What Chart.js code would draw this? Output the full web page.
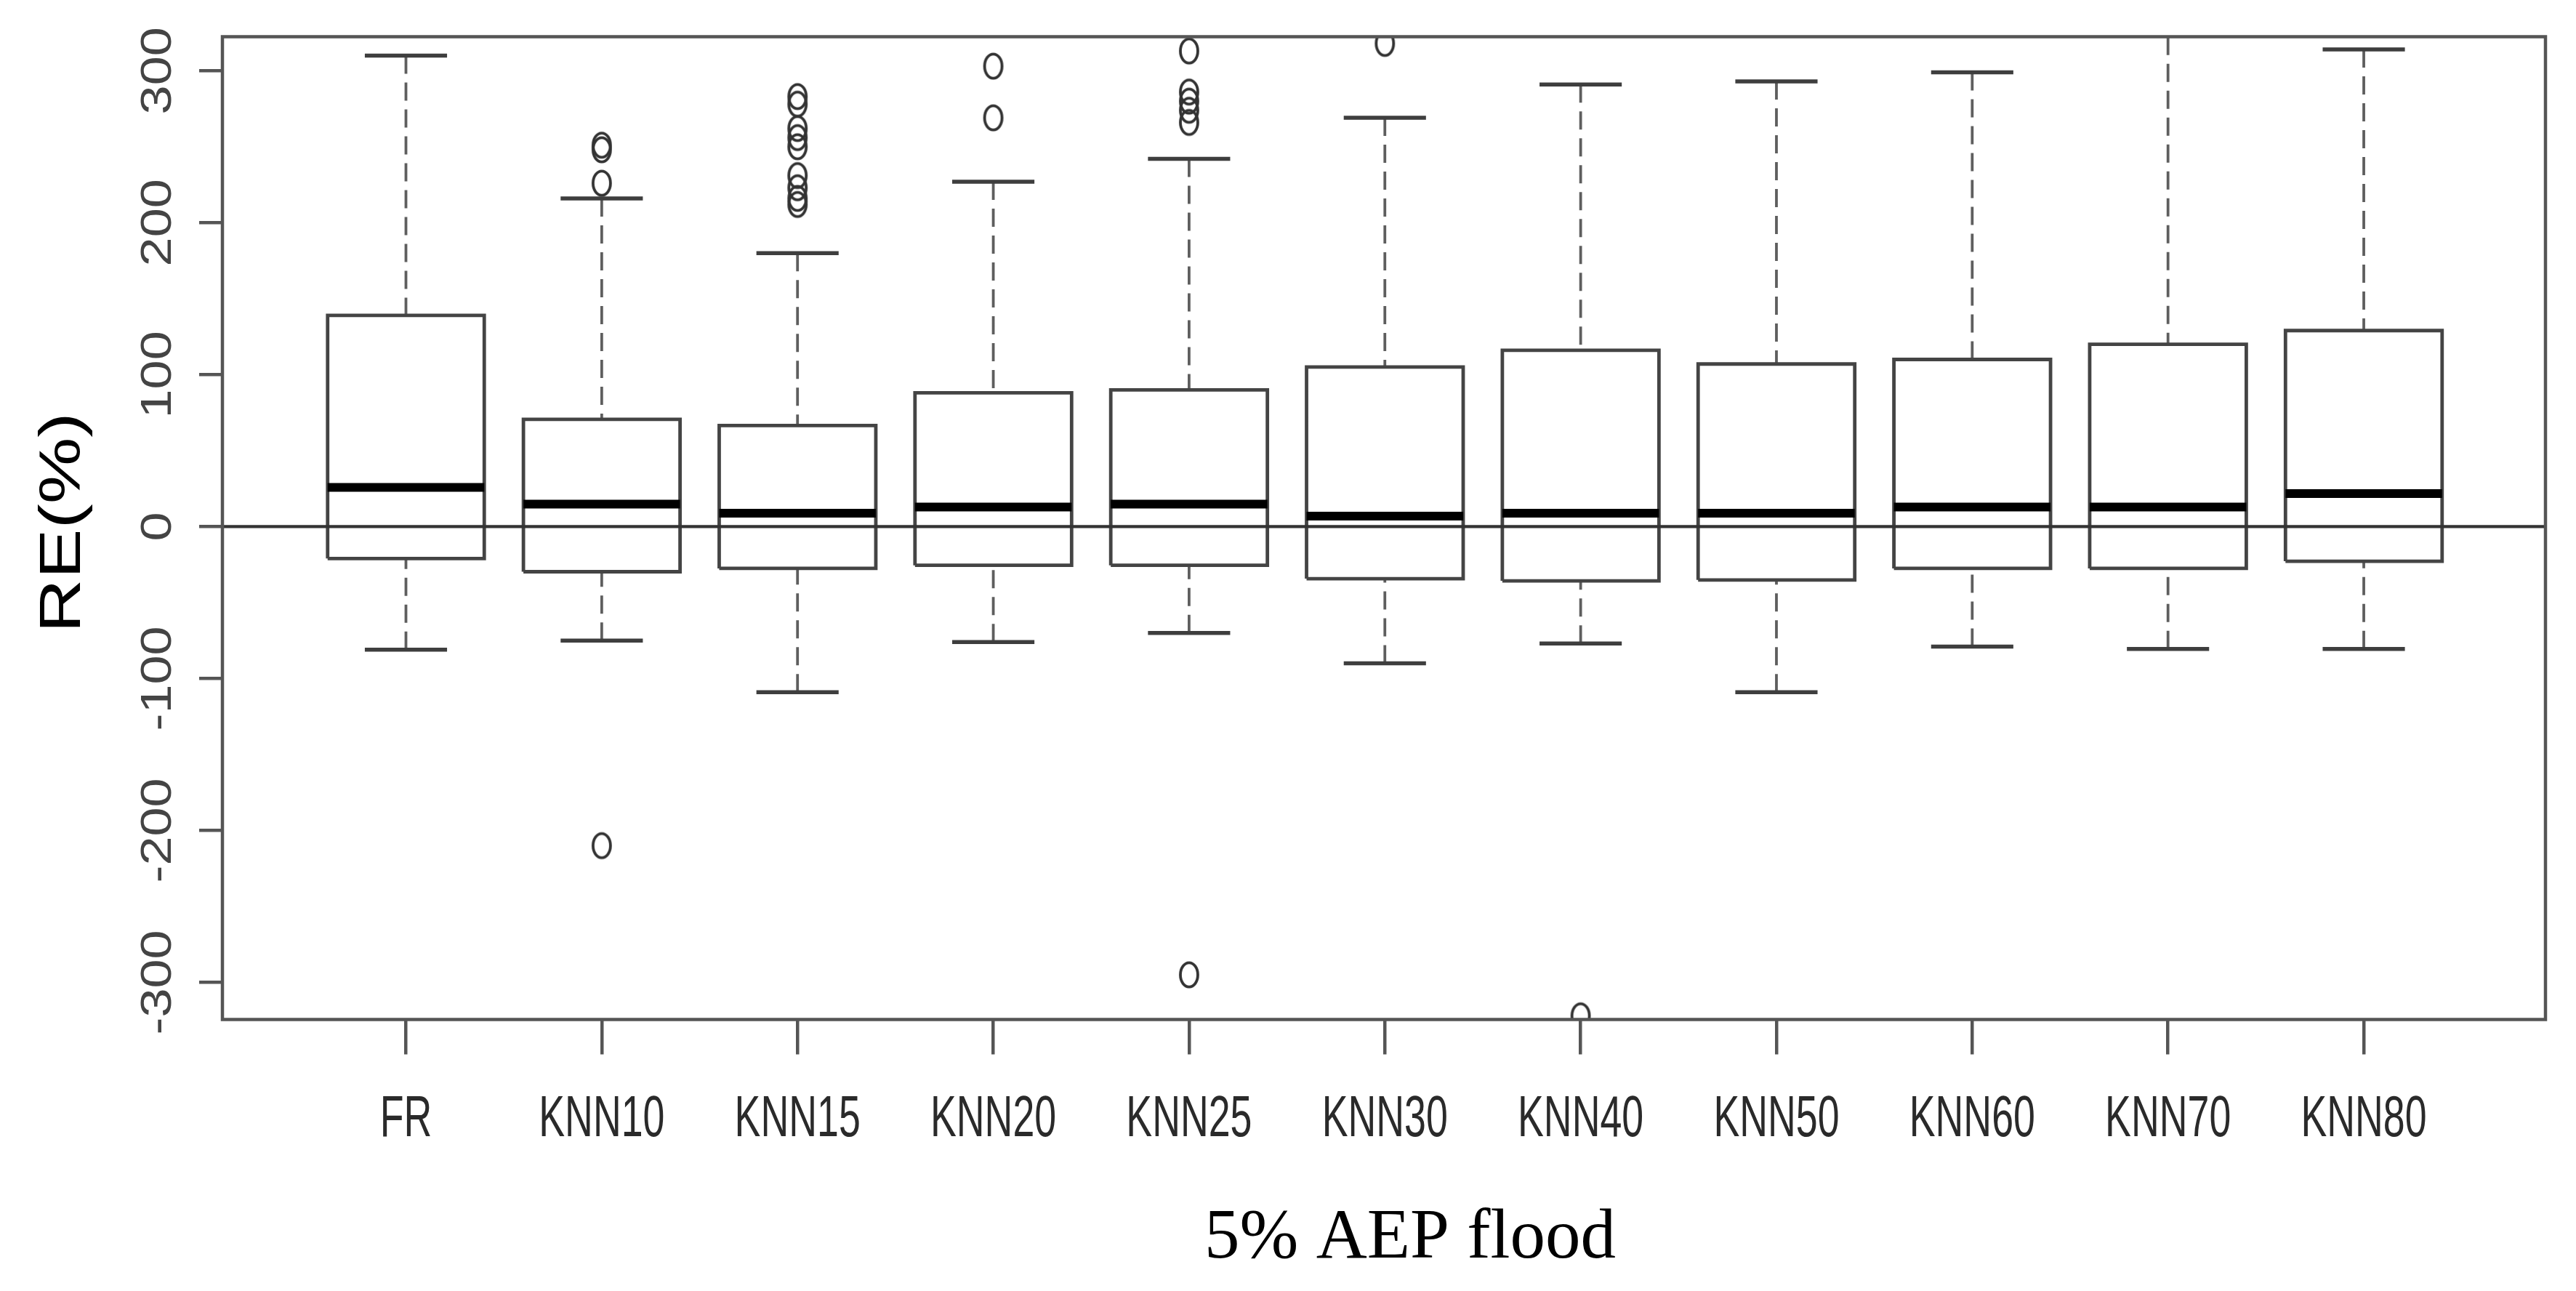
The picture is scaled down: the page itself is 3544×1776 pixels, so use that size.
<!DOCTYPE html>
<html>
<head>
<meta charset="utf-8">
<script src="https://cdn.jsdelivr.net/npm/chart.js@4.4.1/dist/chart.umd.min.js"></script>
<style>
	html, body { margin: 0; padding: 0; background: #fff; }
	#wrap { width: 3544px; height: 1776px; position: relative; }
</style>
</head>
<body>
<div id="wrap"><canvas id="mycanvas"></canvas></div>
<script>
// categories and box statistics (RE %)
var categories = ['FR', 'KNN10', 'KNN15', 'KNN20', 'KNN25', 'KNN30', 'KNN40', 'KNN50', 'KNN60', 'KNN70', 'KNN80'];
var whiskerHigh = [310, 216, 180, 227, 242, 269, 291, 293, 299, 340, 314];
var q3 = [139, 70.6, 66.5, 88, 90, 105, 116, 107, 110, 120, 129];
var median = [25.8, 14.8, 8.8, 12.9, 14.8, 6.9, 8.8, 8.8, 12.9, 12.9, 21.7];
var q1 = [-21, -29.7, -27.5, -25.5, -25.5, -34.3, -35.7, -35.1, -27.5, -27.5, -22.8];
var whiskerLow = [-81, -75, -109, -76, -70, -90, -77, -109, -79, -80.5, -80.5];

// outliers: category index + value
var outlierCat = [1, 1, 1, 1,
	2, 2, 2, 2, 2, 2, 2, 2, 2,
	3, 3,
	4, 4, 4, 4, 4, 4,
	5,
	6];
var outlierVal = [251, 248, 226, -210,
	283, 278, 262, 256, 250, 231, 223, 216, 212,
	303, 269,
	313, 286, 280, 274, 266, -295,
	318,
	-322];

var yTicks = [-300, -200, -100, 0, 100, 200, 300];
var yMin = -324.4, yMax = 322.4;
var xMin = 0.0626, xMax = 11.928;

var xPos = categories.map(function(c, i) { return i + 1; });
var boxHalf = 0.4;
var capHalf = 0.21;

function pieces(fn) {
	var out = [];
	for (var i = 0; i < categories.length; i++) {
		fn(i).forEach(function(p) { out.push(p); });
		out.push({x: xPos[i], y: null});
	}
	return out;
}

var boxData = pieces(function(i) {
	var x = xPos[i];
	return [{x: x - boxHalf, y: q1[i]}, {x: x + boxHalf, y: q1[i]}, {x: x + boxHalf, y: q3[i]},
		{x: x - boxHalf, y: q3[i]}, {x: x - boxHalf, y: q1[i]}];
});
var upperWhisker = pieces(function(i) {
	return [{x: xPos[i], y: whiskerHigh[i]}, {x: xPos[i], y: q3[i]}];
});
var lowerWhisker = pieces(function(i) {
	return [{x: xPos[i], y: whiskerLow[i]}, {x: xPos[i], y: q1[i]}];
});
var capData = pieces(function(i) {
	var x = xPos[i];
	return [{x: x - capHalf, y: whiskerHigh[i]}, {x: x + capHalf, y: whiskerHigh[i]},
		{x: x, y: null},
		{x: x - capHalf, y: whiskerLow[i]}, {x: x + capHalf, y: whiskerLow[i]}];
});
var medianData = pieces(function(i) {
	return [{x: xPos[i] - boxHalf, y: median[i]}, {x: xPos[i] + boxHalf, y: median[i]}];
});
var outlierData = outlierCat.map(function(c, k) { return {x: xPos[c], y: outlierVal[k]}; });

// open circle marker (slightly tall, as in the figure)
var ring = document.createElement('canvas');
ring.width = 32; ring.height = 42;
var rc = ring.getContext('2d');
rc.strokeStyle = '#333';
rc.lineWidth = 3.8;
rc.beginPath();
rc.ellipse(16, 21, 12, 16.7, 0, 0, Math.PI * 2);
rc.stroke();

function seg(data, color, width, order, dash) {
	return {
		type: 'line',
		data: data,
		borderColor: color,
		borderWidth: width,
		borderDash: dash || [],
		borderJoinStyle: 'miter',
		borderCapStyle: 'butt',
		pointRadius: 0,
		fill: false,
		tension: 0,
		spanGaps: false,
		order: order
	};
}

var labelPlugin = {
	id: 'rlabels',
	afterDraw: function(chart) {
		var ctx = chart.ctx, xs = chart.scales.x, ys = chart.scales.y, a = chart.chartArea;
		ctx.save();
		ctx.strokeStyle = '#555';
		ctx.lineWidth = 4.5;
		ctx.strokeRect(a.left, a.top, a.right - a.left, a.bottom - a.top);

		// category labels (condensed)
		ctx.fillStyle = '#2a2a2a';
		ctx.font = '79px "Liberation Sans", Arial, sans-serif';
		ctx.textAlign = 'center';
		ctx.textBaseline = 'alphabetic';
		categories.forEach(function(c, i) {
			ctx.save();
			ctx.translate(xs.getPixelForValue(xPos[i]), a.bottom + 160);
			ctx.scale(0.68, 1);
			ctx.fillText(c, 0, 0);
			ctx.restore();
		});

		// y tick labels, rotated
		ctx.fillStyle = '#444';
		ctx.font = '72px "Liberation Sans", Arial, sans-serif';
		yTicks.forEach(function(v) {
			ctx.save();
			ctx.translate(a.left - 71, ys.getPixelForValue(v));
			ctx.rotate(-Math.PI / 2);
			ctx.scale(1, 0.82);
			ctx.fillText(String(v), 0, 0);
			ctx.restore();
		});

		// y title
		ctx.fillStyle = '#000';
		ctx.font = '103px "Liberation Sans", Arial, sans-serif';
		ctx.save();
		ctx.translate(a.left - 196, 719);
		ctx.rotate(-Math.PI / 2);
		ctx.scale(1, 0.77);
		ctx.fillText('RE(%)', 0, 0);
		ctx.restore();

		// x title
		ctx.font = '97px "Liberation Serif", "Times New Roman", serif';
		ctx.fillText('5% AEP flood', 1940, 1730);
		ctx.restore();
	}
};

var ctx = document.getElementById('mycanvas');

var boxChart = new Chart(ctx, {
	type: 'scatter',
	data: {
		datasets: [
			seg(upperWhisker, '#5e5e5e', 3.8, 6, [25, 12]),
			seg(lowerWhisker, '#5e5e5e', 3.8, 6, [25, 12]),
			seg(capData, '#3e3e3e', 5.5, 5),
			seg(boxData, '#444', 4.8, 4),
			seg([{x: xMin, y: 0}, {x: xMax, y: 0}], '#333', 4.2, 3),
			seg(medianData, '#000', 12, 2),
			{
				type: 'scatter',
				data: outlierData,
				pointStyle: ring,
				pointRadius: 15,
				showLine: false,
				order: 1
			}
		]
	},
	options: {
		responsive: true,
		maintainAspectRatio: false,
		devicePixelRatio: 1,
		animation: false,
		layout: { padding: { left: 0, right: 42, top: 50.5, bottom: 0 } },
		plugins: { legend: { display: false }, tooltip: { enabled: false } },
		scales: {
			x: {
				type: 'linear',
				min: xMin,
				max: xMax,
				afterBuildTicks: function(axis) {
					axis.ticks = xPos.map(function(v) { return {value: v}; });
				},
				afterFit: function(axis) { axis.height = 373.5; },
				ticks: { display: false },
				border: { display: false },
				grid: { drawOnChartArea: false, drawTicks: true, tickLength: 48, color: '#555', lineWidth: 4.5 }
			},
			y: {
				type: 'linear',
				min: yMin,
				max: yMax,
				afterBuildTicks: function(axis) {
					axis.ticks = yTicks.map(function(v) { return {value: v}; });
				},
				afterFit: function(axis) { axis.width = 306; },
				ticks: { display: false },
				border: { display: false },
				grid: { drawOnChartArea: false, drawTicks: true, tickLength: 32, color: '#555', lineWidth: 4.5 }
			}
		}
	},
	plugins: [labelPlugin]
});
</script>
</body>
</html>
